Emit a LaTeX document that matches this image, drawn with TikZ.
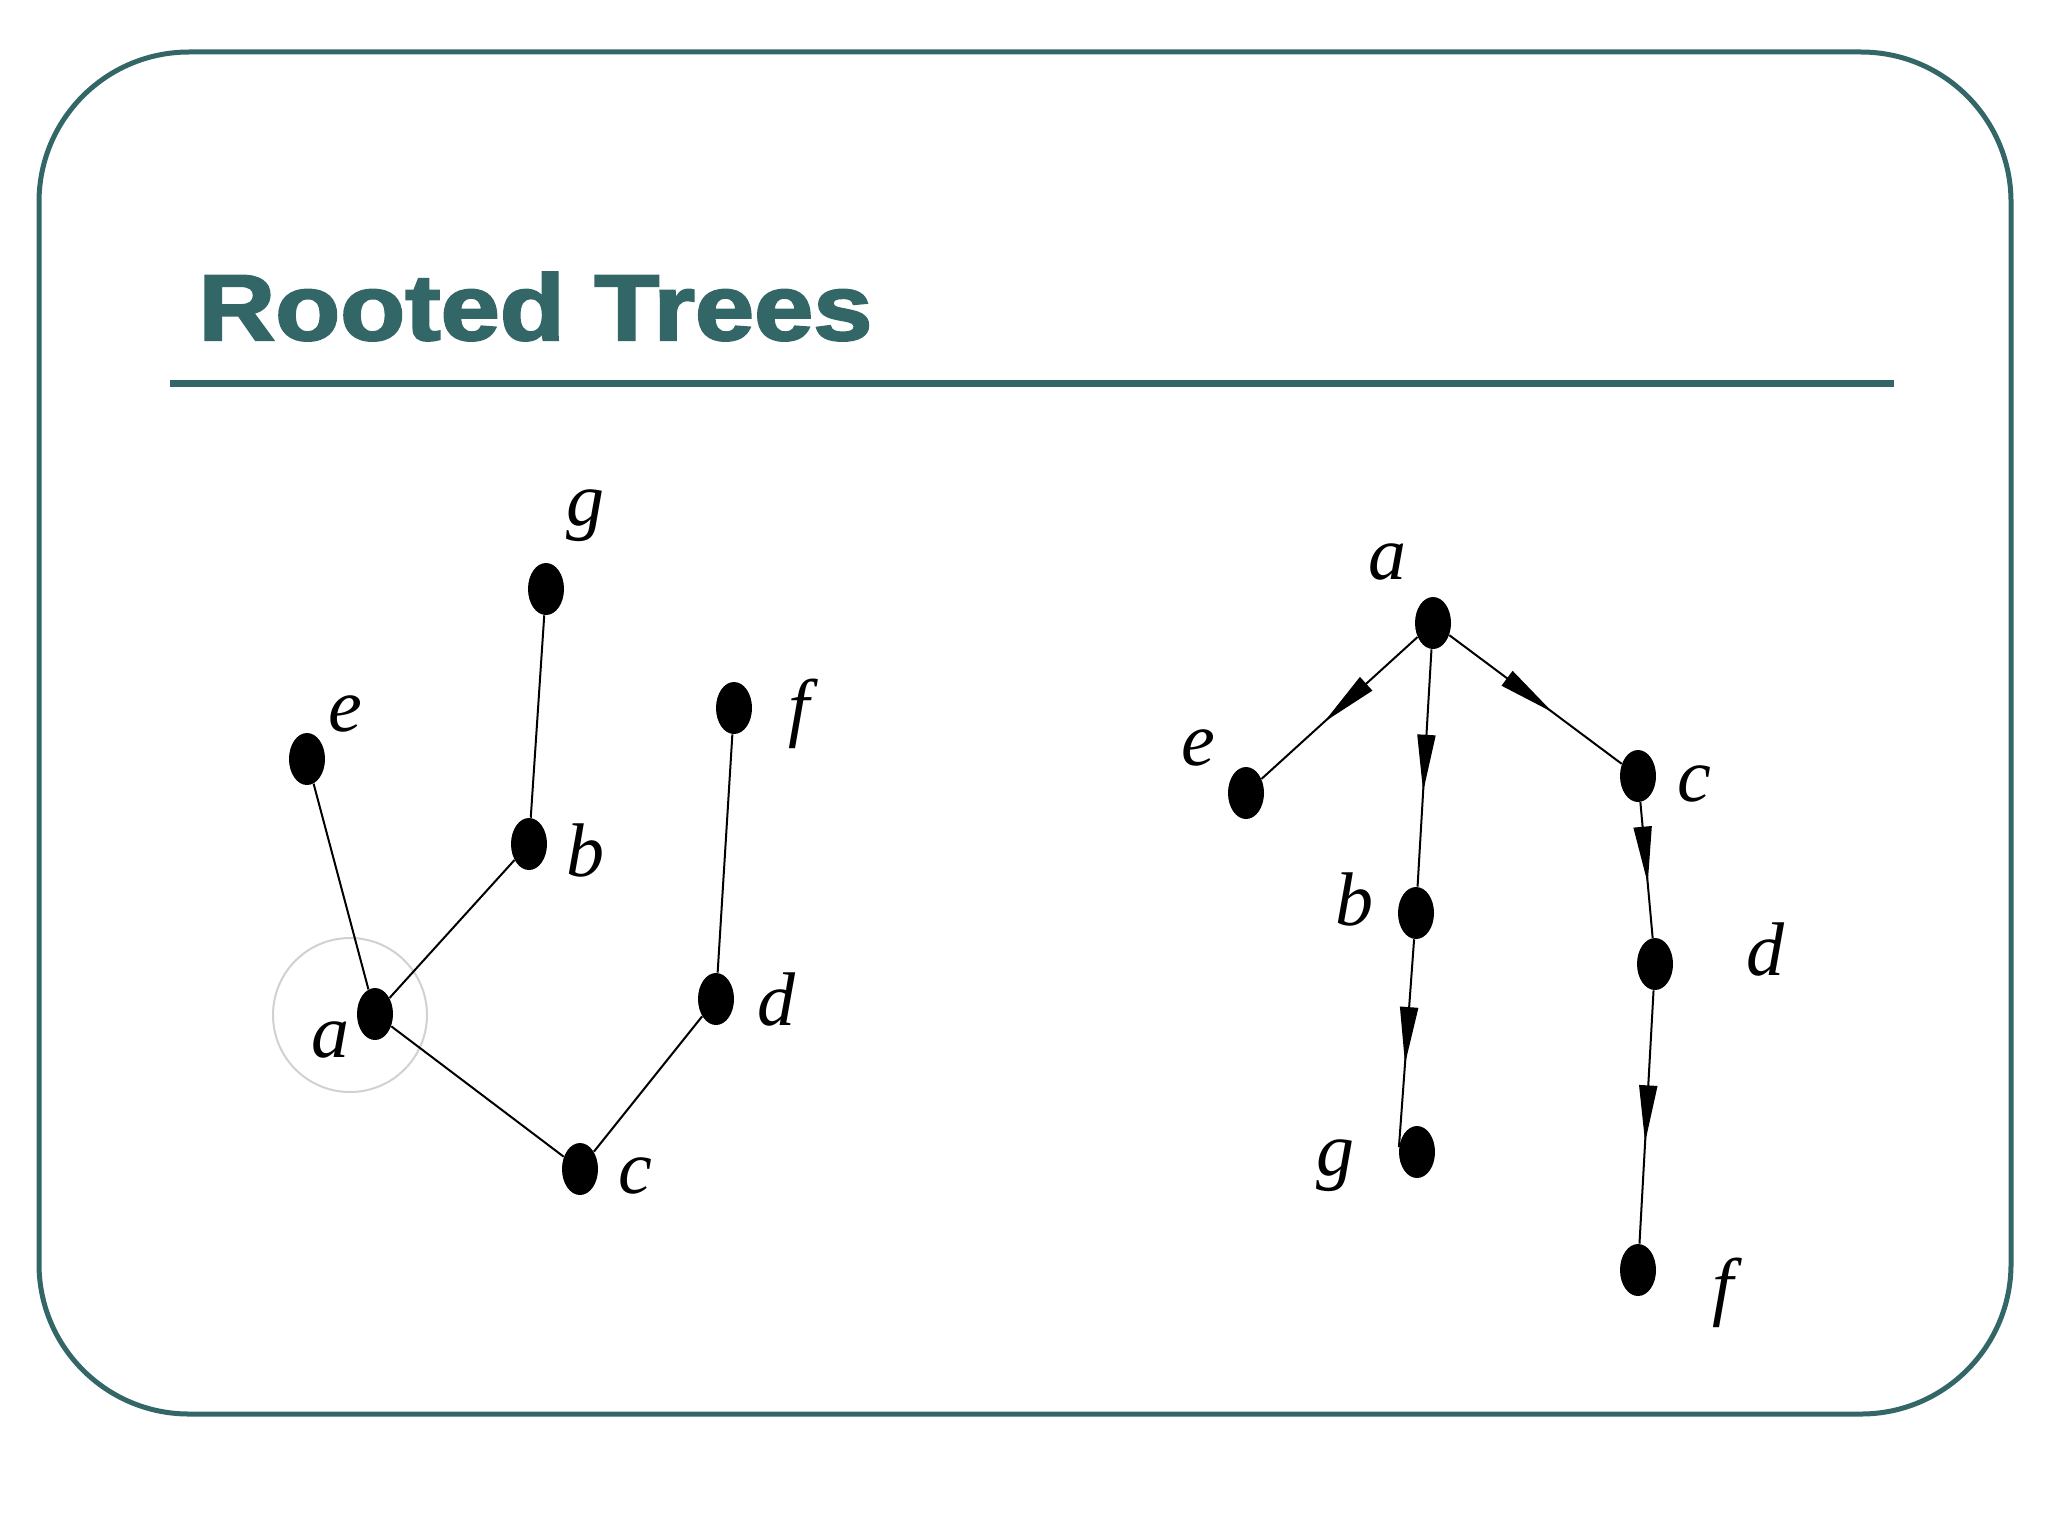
\documentclass[tikz,border=0pt]{standalone}
\usepackage{fontspec}
\setmainfont{Liberation Serif}
\newfontfamily\titlefont{Liberation Sans}[BoldFeatures={FakeBold=2.2}]
\usetikzlibrary{arrows.meta,decorations.markings,shapes.geometric}
\definecolor{teal1}{HTML}{336666}
\tikzset{
  vtx/.style={ellipse, fill=black, minimum width=18pt, minimum height=26pt, inner sep=0pt, draw=none},
  lbl/.style={inner sep=0pt, font=\fontsize{38}{40}\selectfont\itshape},
  edge/.style={line width=1pt},
  darrow/.style={line width=1pt, postaction={decorate}, decoration={markings,
     mark=at position 0.6 with {\arrow{Triangle[length=28.5pt,width=9pt]}}}}
}
\begin{document}
\begin{tikzpicture}[x=0.5pt,y=-0.5pt]
\useasboundingbox (0,0) rectangle (2048,1536);
\fill[white] (0,0) rectangle (2048,1536);
% frame
\draw[teal1, line width=2.5pt, rounded corners=75pt] (39,52) rectangle (2011,1414);
% title
\node[anchor=base west, inner sep=0pt, text=teal1] (title) at (198,340)
  {\resizebox{337pt}{\height}{\titlefont\fontsize{46.8}{50}\selectfont\bfseries Rooted Trees}};
\draw[teal1, line width=3.5pt] (170,383) -- (1894,383);
% left tree
\draw[black!18, line width=1pt] (350,1015) circle (77);
\node[vtx] (lg) at (546,589) {};
\node[vtx] (le) at (307,759) {};
\node[vtx] (lf) at (734,708) {};
\node[vtx] (lb) at (529,844) {};
\node[vtx] (la) at (375,1014) {};
\node[vtx] (ld) at (716,999) {};
\node[vtx] (lc) at (580,1169) {};
\node[lbl] (tlg) at (585,516) {g};
\node[lbl] (tle) at (345,714) {e};
\node[lbl] (tlf) at (799,714) {f};
\node[lbl] (tlb) at (585,850) {b};
\node[lbl] (tla) at (330,1040) {a};
\node[lbl] (tld) at (776,1000) {d};
\node[lbl] (tlc) at (635,1176) {c};
\draw[edge] (le) -- (la);
\draw[edge] (lg) -- (lb);
\draw[edge] (lb) -- (la);
\draw[edge] (la) -- (lc);
\draw[edge] (lc) -- (ld);
\draw[edge] (ld) -- (lf);
% right tree
\node[vtx] (ra) at (1433,623) {};
\node[vtx] (re) at (1246,793) {};
\node[vtx] (rc) at (1638,776) {};
\node[vtx] (rb) at (1416,913) {};
\node[vtx] (rd) at (1655,964) {};
\node[vtx] (rg) at (1417,1152) {};
\node[vtx] (rf) at (1638,1270) {};
\node[lbl] (tra) at (1387,562) {a};
\node[lbl] (tre) at (1198,748) {e};
\node[lbl] (trc) at (1694,784) {c};
\node[lbl] (trb) at (1354,899) {b};
\node[lbl] (trd) at (1765,950) {d};
\node[lbl] (trg) at (1335,1166) {g};
\node[lbl] (trf) at (1723,1293) {f};
\draw[darrow] (ra) -- (re);
\draw[darrow] (ra) -- (rb);
\draw[darrow] (ra) -- (rc);
\draw[darrow] (rb) -- (rg.165);
\draw[darrow] (rc) -- (rd);
\draw[darrow] (rd) -- (rf);
\end{tikzpicture}
\end{document}
